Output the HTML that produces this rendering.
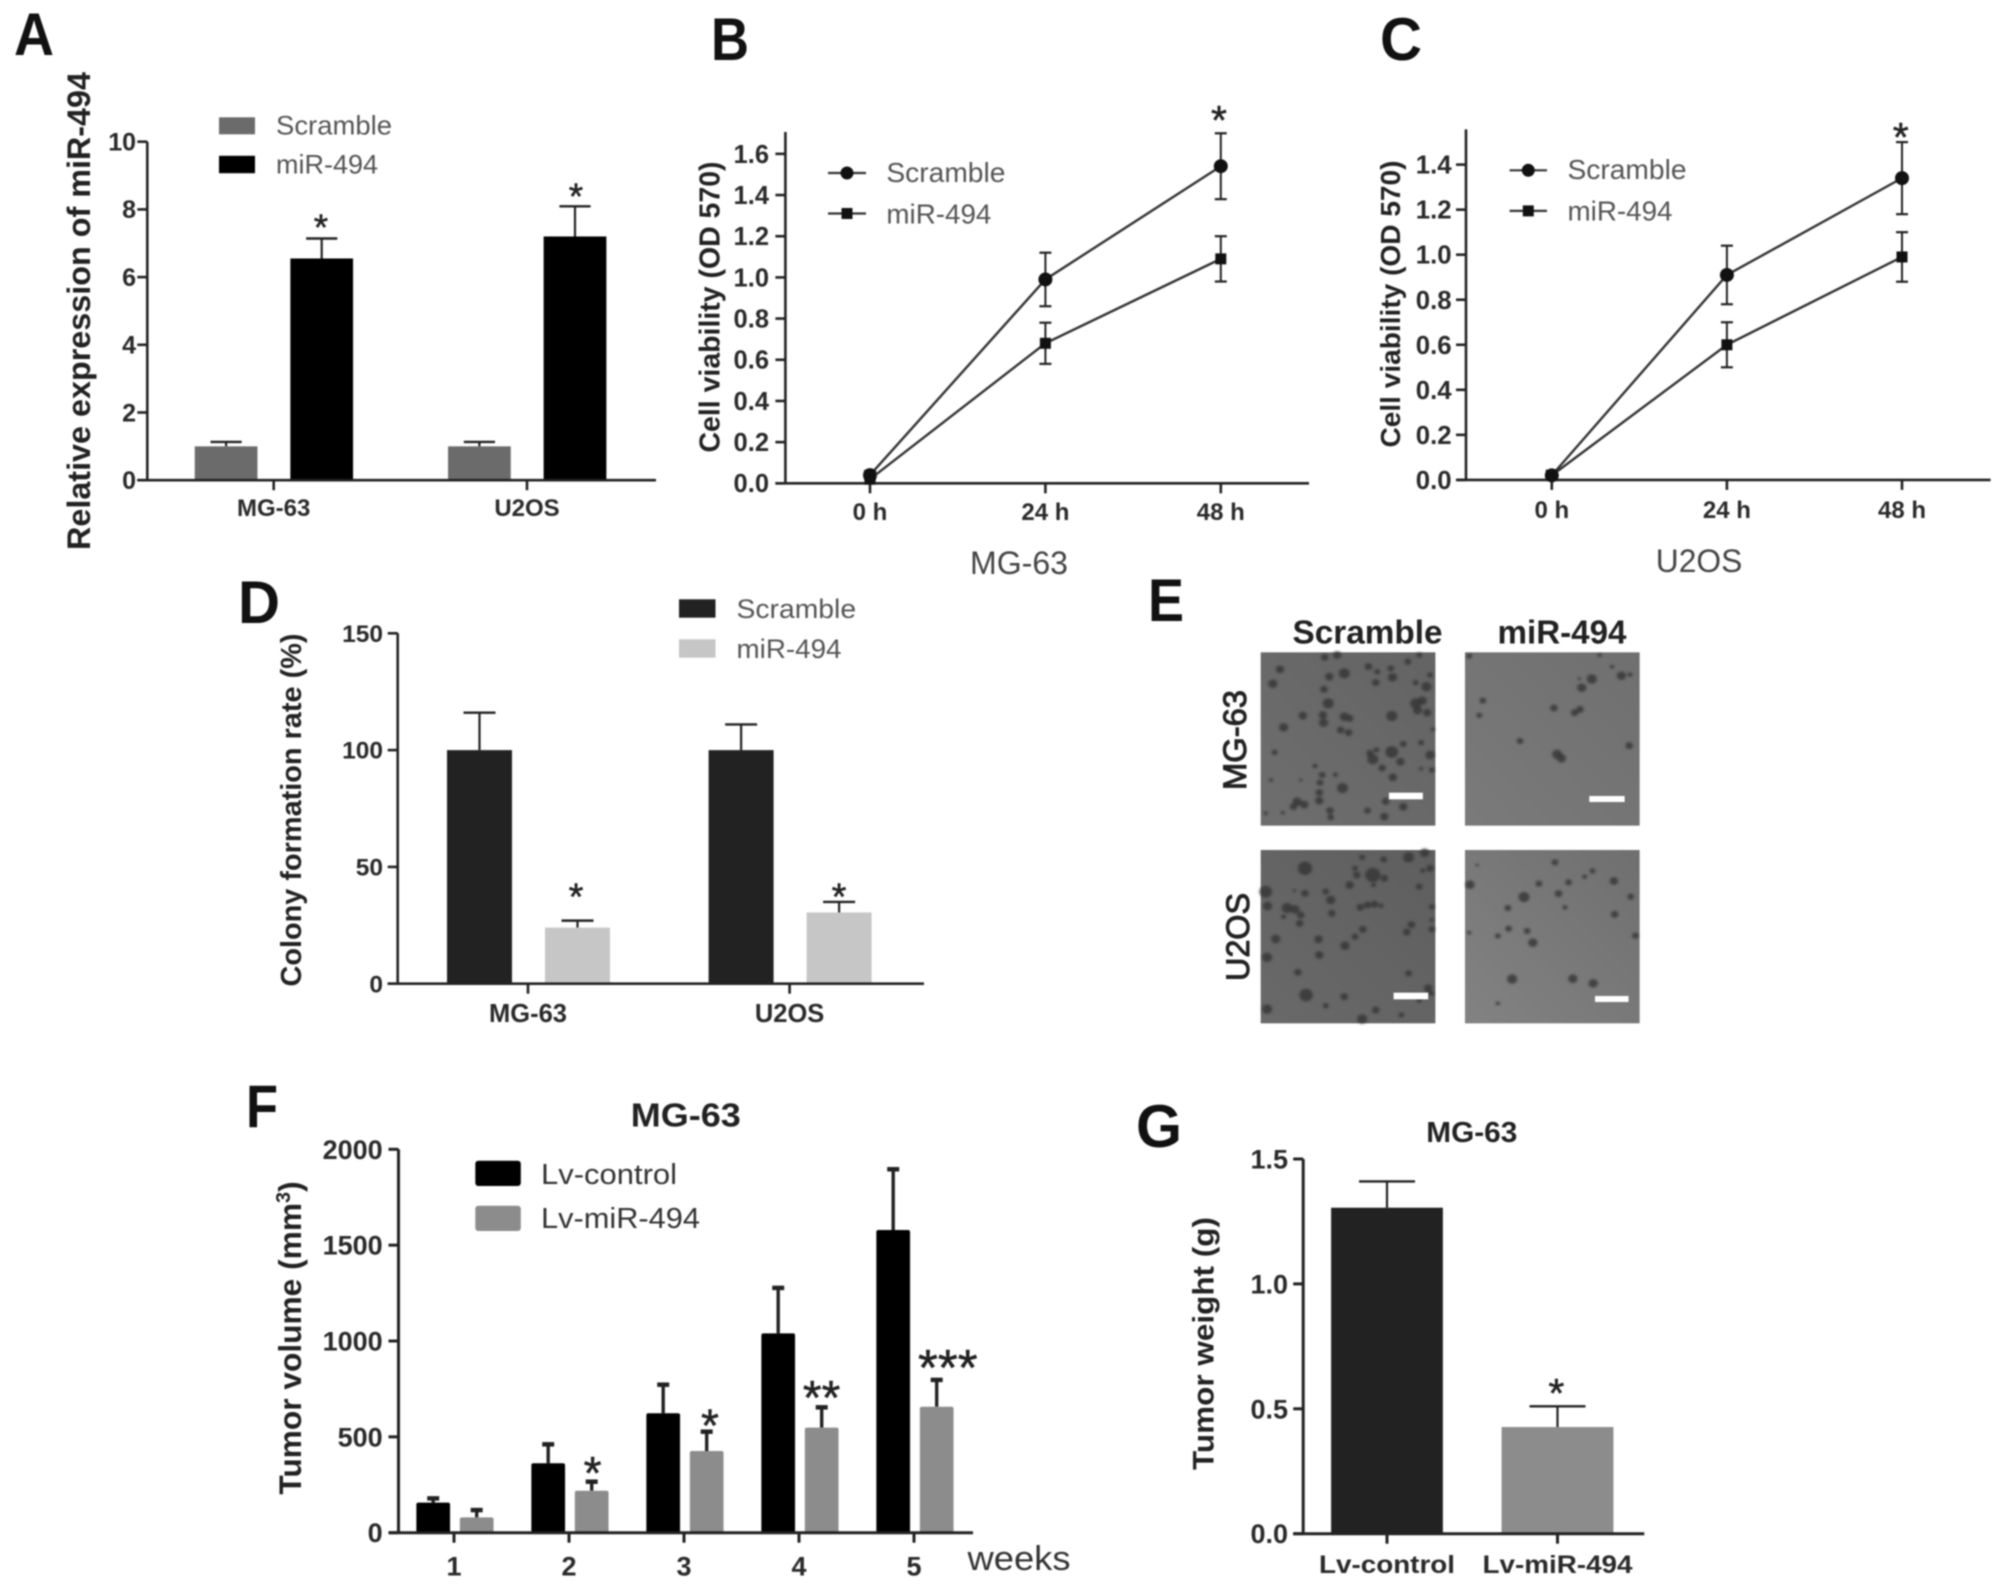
<!DOCTYPE html>
<html lang="en">
<head>
<meta charset="utf-8">
<title>miR-494 figure panels</title>
<style>
html,body{margin:0;padding:0;background:#fff;width:2008px;height:1590px;overflow:hidden}
svg{display:block;filter:blur(0.75px)}
text{font-family:"Liberation Sans",Arial,sans-serif}
</style>
</head>
<body>
<svg id="fig" xmlns="http://www.w3.org/2000/svg" width="2008" height="1590" viewBox="0 0 2008 1590">
<defs>
<filter id="colonyBlur" x="-5%" y="-5%" width="110%" height="110%"><feGaussianBlur stdDeviation="3.5"/></filter>
<linearGradient id="gradA" x1="0" y1="1" x2="1" y2="0"><stop offset="0" stop-color="#6e6e6e"/><stop offset="1" stop-color="#636363"/></linearGradient>
<linearGradient id="gradB" x1="0" y1="1" x2="1" y2="0"><stop offset="0" stop-color="#7a7a7a"/><stop offset="1" stop-color="#6f6f6f"/></linearGradient>
<linearGradient id="gradC" x1="0" y1="1" x2="1" y2="0"><stop offset="0" stop-color="#696969"/><stop offset="1" stop-color="#5e5e5e"/></linearGradient>
<linearGradient id="gradD" x1="0" y1="1" x2="1" y2="0"><stop offset="0" stop-color="#828282"/><stop offset="1" stop-color="#6f6f6f"/></linearGradient>
</defs>
<rect x="0" y="0" width="2008" height="1590" fill="#fff"/>
<g id="panel-a"></g>
<g id="panel-b"></g>
<g id="panel-c"></g>
<g id="panel-d"></g>
<g id="panel-e"></g>
<g id="panel-f"></g>
<g id="panel-g"></g>
</svg>
<script>
// ---------- Panel A data ----------
const aCategories = ['MG-63', 'U2OS'];
const aScramble = [1, 1];
const aScrambleUpper = [1.13, 1.13];
const aMir = [6.55, 7.2];
const aMirUpper = [7.14, 8.09];
const aTicks = [0, 2, 4, 6, 8, 10];
const aTickLabels = ['0', '2', '4', '6', '8', '10'];

// ---------- Panel B data ----------
const bCategories = ['0 h', '24 h', '48 h'];
const bScramble = [0.04, 0.99, 1.54];
const bScrambleLow = [0.02, 0.86, 1.38];
const bScrambleHigh = [0.06, 1.12, 1.70];
const bMir = [0.02, 0.68, 1.09];
const bMirLow = [0.0, 0.58, 0.98];
const bMirHigh = [0.04, 0.78, 1.20];
const bTicks = [0, 0.2, 0.4, 0.6, 0.8, 1.0, 1.2, 1.4, 1.6];
const bTickLabels = ['0.0', '0.2', '0.4', '0.6', '0.8', '1.0', '1.2', '1.4', '1.6'];

// ---------- Panel C data ----------
const cCategories = ['0 h', '24 h', '48 h'];
const cScramble = [0.02, 0.91, 1.34];
const cScrambleLow = [0.0, 0.78, 1.18];
const cScrambleHigh = [0.04, 1.04, 1.50];
const cMir = [0.02, 0.6, 0.99];
const cMirLow = [0.0, 0.5, 0.88];
const cMirHigh = [0.04, 0.7, 1.10];
const cTicks = [0, 0.2, 0.4, 0.6, 0.8, 1.0, 1.2, 1.4];
const cTickLabels = ['0.0', '0.2', '0.4', '0.6', '0.8', '1.0', '1.2', '1.4'];

// ---------- Panel D data ----------
const dCategories = ['MG-63', 'U2OS'];
const dScramble = [100, 100];
const dScrambleUpper = [116, 111];
const dMir = [24, 30.5];
const dMirUpper = [27, 35];
const dTicks = [0, 50, 100, 150];
const dTickLabels = ['0', '50', '100', '150'];

// ---------- Panel F data ----------
const fCategories = ['1', '2', '3', '4', '5'];
const fControl = [157, 362, 623, 1040, 1579];
const fControlUpper = [179, 461, 772, 1277, 1896];
const fMir = [80, 219, 426, 548, 657];
const fMirUpper = [118, 266, 527, 654, 797];
const fTicks = [0, 500, 1000, 1500, 2000];
const fTickLabels = ['0', '500', '1000', '1500', '2000'];

// ---------- Panel G data ----------
const gCategories = ['Lv-control', 'Lv-miR-494'];
const gValues = [1.305, 0.427];
const gUpper = [1.41, 0.51];
const gTicks = [0, 0.5, 1.0, 1.5];
const gTickLabels = ['0.0', '0.5', '1.0', '1.5'];

// ---------- Helpers ----------
const NS = 'http://www.w3.org/2000/svg';
function mk(parent, tag, attrs) {
  const el = document.createElementNS(NS, tag);
  for (const k in attrs) el.setAttribute(k, attrs[k]);
  parent.appendChild(el);
  return el;
}
function txt(parent, name, str, x, y, o) {
  o = o || {};
  const size = o.size || 24;
  const attrs = {
    'font-size': size,
    'font-weight': o.weight || 'bold',
    fill: o.fill || '#222',
    'text-anchor': o.anchor || 'middle'
  };
  if (o.stroke) {
    attrs.stroke = o.fill || '#222';
    attrs['stroke-width'] = o.stroke;
  }
  if (o.rotate) {
    attrs.transform = 'translate(' + x + ' ' + y + ') rotate(-90)';
    attrs.x = 0;
    attrs.y = size * 0.35;
  } else {
    attrs.x = x;
    attrs.y = y + size * 0.35;
  }
  if (o.len) {
    attrs.textLength = o.len;
    attrs.lengthAdjust = 'spacingAndGlyphs';
  }
  const el = mk(parent, 'text', attrs);
  el.textContent = str;
  
  
  return el;
}
function stars(parent, name, str, cx, cy, size) {
  const el = mk(parent, 'text', {x: cx, y: cy + size * 0.49, 'font-size': size, 'font-weight': 'normal', stroke: '#222', 'stroke-width': 0.5, fill: '#222', 'text-anchor': 'middle'});
  el.textContent = str;
  
  
  return el;
}
function line(parent, name, x1, y1, x2, y2, color, w) {
  const el = mk(parent, 'line', {x1: x1, y1: y1, x2: x2, y2: y2, stroke: color || '#222', 'stroke-width': w || 2.4});
  
  
  return el;
}
function box(parent, name, x, y, w, h, fill, rx) {
  const el = mk(parent, 'rect', {x: x, y: y, width: w, height: h, fill: fill, rx: rx || 0});
  
  
  return el;
}
function panelLetter(parent, letter, x, y, len) {
  const el = mk(parent, 'text', {x: x, y: y, 'font-size': 60, 'font-weight': 'bold', fill: '#111', textLength: len, lengthAdjust: 'spacingAndGlyphs'});
  el.textContent = letter;
  
  
}
function axes(g, c) {
  const yS = v => c.y0 - v * c.unit;
  const xS = i => c.cat0 + i * c.step;
  line(g, 'y-axis-line', c.x, c.top, c.x, c.y0 + 1, '#222', c.axisW || 2.6);
  line(g, 'x-axis-line', c.x - 10, c.y0, c.right, c.y0, '#222', c.axisW || 2.6);
  c.ticks.forEach((t, i) => {
    line(g, 'y-tick-' + c.tickLabels[i], c.x - 10, yS(t), c.x, yS(t), '#222', c.axisW || 2.6);
    txt(g, 'y-tick-label-' + c.tickLabels[i], c.tickLabels[i], c.labelRight, yS(t), {size: c.tickSize, anchor: 'end', fill: '#2a2a2a'});
  });
  c.categories.forEach((cat, i) => {
    line(g, 'x-tick-' + cat, xS(i), c.y0, xS(i), c.y0 + 10, '#222', c.axisW || 2.6);
    txt(g, 'x-tick-label-' + cat, cat, xS(i), c.catY, {size: c.catSize, fill: '#2a2a2a', len: c.catLens ? c.catLens[i] : null});
  });
  return {yS: yS, xS: xS};
}
function bars(g, c, s, values, uppers, color, prefix, offset) {
  values.forEach((v, i) => {
    const cx = s.xS(i) + offset;
    const top = s.yS(v);
    const hi = s.yS(uppers[i]);
    line(g, prefix + '-error-bar-' + i, cx, top, cx, hi, '#222', c.errW || 2.2);
    line(g, prefix + '-error-cap-' + i, cx - c.capHalf, hi, cx + c.capHalf, hi, '#222', c.errCapW || 2.4);
    box(g, prefix + '-bar-' + i, cx - c.barW / 2, top, c.barW, c.y0 - top, Array.isArray(color) ? color[i] : color, c.barR || 0);
  });
}
function series(g, s, values, lows, highs, prefix, marker) {
  const d = values.map((v, i) => (i ? 'L' : 'M') + s.xS(i) + ' ' + s.yS(v)).join(' ');
  const path = mk(g, 'path', {d: d, fill: 'none', stroke: '#333', 'stroke-width': 2.4});
  
  
  values.forEach((v, i) => {
    const x = s.xS(i);
    line(g, prefix + '-error-' + i, x, s.yS(lows[i]), x, s.yS(highs[i]), '#222', 2);
    line(g, prefix + '-error-top-' + i, x - 6, s.yS(highs[i]), x + 6, s.yS(highs[i]), '#222', 2.2);
    line(g, prefix + '-error-bottom-' + i, x - 6, s.yS(lows[i]), x + 6, s.yS(lows[i]), '#222', 2.2);
    if (marker === 'circle') {
      const m = mk(g, 'circle', {cx: x, cy: s.yS(v), r: 7, fill: '#111'});
      
      
    } else {
      box(g, prefix + '-point-' + i, x - 5.5, s.yS(v) - 5.5, 11, 11, '#111');
    }
  });
}
function lineLegend(g, x1, x2, textX, y1, y2) {
  line(g, 'legend-scramble-line', x1, y1, x2, y1, '#333', 2.2);
  const m = mk(g, 'circle', {cx: (x1 + x2) / 2, cy: y1, r: 6.5, fill: '#111'});
  
  
  txt(g, 'legend-scramble-label', 'Scramble', textX, y1 - 1, {size: 28, weight: 'normal', fill: '#555', anchor: 'start', len: 119});
  line(g, 'legend-mir-494-line', x1, y2, x2, y2, '#333', 2.2);
  box(g, 'legend-mir-494-marker', (x1 + x2) / 2 - 5.5, y2 - 5.5, 11, 11, '#111');
  txt(g, 'legend-mir-494-label', 'miR-494', textX, y2, {size: 28, weight: 'normal', fill: '#555', anchor: 'start', len: 105});
}

// ---------- Panel A ----------
(function () {
  const g = document.getElementById('panel-a');
  const c = {x: 147.3, y0: 480.2, unit: 33.85, top: 141.7, right: 656, cat0: 273.7, step: 253.3, categories: aCategories,
    ticks: aTicks, tickLabels: aTickLabels, labelRight: 136, tickSize: 25, catY: 507.6, catSize: 24, barW: 62.7, capHalf: 15.6};
  panelLetter(g, 'A', 14, 55, 40);
  txt(g, 'y-axis-title', 'Relative expression of miR-494', 79, 311, {size: 32, rotate: true, len: 478});
  const s = {yS: v => c.y0 - v * c.unit, xS: i => c.cat0 + i * c.step};
  bars(g, c, s, aScramble, aScrambleUpper, '#6b6b6b', 'scramble', -47.6);
  bars(g, c, s, aMir, aMirUpper, '#000', 'mir-494', 48);
  axes(g, c);
  stars(g, 'significance-mg-63', '*', 321, 222, 37);
  stars(g, 'significance-u2os', '*', 576, 191, 37);
  box(g, 'legend-scramble-swatch', 219, 117.3, 36, 17, '#6b6b6b');
  box(g, 'legend-mir-494-swatch', 219, 155.8, 36, 17.4, '#000');
  txt(g, 'legend-scramble-label', 'Scramble', 276, 125, {size: 27, weight: 'normal', fill: '#555', anchor: 'start', len: 116});
  txt(g, 'legend-mir-494-label', 'miR-494', 276, 164, {size: 27, weight: 'normal', fill: '#555', anchor: 'start', len: 102});
})();

// ---------- Panel B ----------
(function () {
  const g = document.getElementById('panel-b');
  const c = {x: 785.4, y0: 483.3, unit: 205.9, top: 132, right: 1309, cat0: 870, step: 175.4, categories: bCategories,
    ticks: bTicks, tickLabels: bTickLabels, labelRight: 769, tickSize: 25.5, catY: 511.7, catSize: 24};
  panelLetter(g, 'B', 711, 60, 38);
  txt(g, 'y-axis-title', 'Cell viability (OD 570)', 709.5, 307, {size: 28.5, rotate: true, len: 291});
  const s = axes(g, c);
  series(g, s, bScramble, bScrambleLow, bScrambleHigh, 'scramble', 'circle');
  series(g, s, bMir, bMirLow, bMirHigh, 'mir-494', 'square');
  stars(g, 'significance-48h', '*', 1219, 114, 41);
  lineLegend(g, 828, 866, 886.4, 173, 213.5);
  txt(g, 'panel-subtitle', 'MG-63', 1019, 563, {size: 32, weight: 'normal', fill: '#444', len: 98});
})();

// ---------- Panel C ----------
(function () {
  const g = document.getElementById('panel-c');
  const c = {x: 1466, y0: 479.9, unit: 225.2, top: 129.4, right: 1990.6, cat0: 1551.8, step: 175.1, categories: cCategories,
    ticks: cTicks, tickLabels: cTickLabels, labelRight: 1451.6, tickSize: 25.8, catY: 509.8, catSize: 24};
  panelLetter(g, 'C', 1380, 60, 42);
  txt(g, 'y-axis-title', 'Cell viability (OD 570)', 1390, 304, {size: 28, rotate: true, len: 287});
  const s = axes(g, c);
  series(g, s, cScramble, cScrambleLow, cScrambleHigh, 'scramble', 'circle');
  series(g, s, cMir, cMirLow, cMirHigh, 'mir-494', 'square');
  stars(g, 'significance-48h', '*', 1900.7, 130.9, 41);
  lineLegend(g, 1509.6, 1547, 1567.5, 170.3, 210.9);
  txt(g, 'panel-subtitle', 'U2OS', 1699, 560.7, {size: 32, weight: 'normal', fill: '#444', len: 86.5});
})();

// ---------- Panel D ----------
(function () {
  const g = document.getElementById('panel-d');
  const c = {x: 397.7, y0: 983.7, unit: 2.336, top: 633.3, right: 924, cat0: 528, step: 261.6, categories: dCategories,
    ticks: dTicks, tickLabels: dTickLabels, labelRight: 383, tickSize: 24.5, catY: 1013.3, catSize: 25.5, barW: 65, capHalf: 16};
  panelLetter(g, 'D', 238, 623, 42);
  txt(g, 'y-axis-title', 'Colony formation rate (%)', 291, 810, {size: 28.5, rotate: true, len: 353});
  const s = {yS: v => c.y0 - v * c.unit, xS: i => c.cat0 + i * c.step};
  bars(g, c, s, dScramble, dScrambleUpper, '#222', 'scramble', -48.5);
  bars(g, c, s, dMir, dMirUpper, '#c6c6c6', 'mir-494', 49.5);
  axes(g, c);
  stars(g, 'significance-mg-63', '*', 576, 890.7, 38);
  stars(g, 'significance-u2os', '*', 839, 890.7, 38);
  box(g, 'legend-scramble-swatch', 679, 599.3, 36.5, 18.4, '#222');
  box(g, 'legend-mir-494-swatch', 679, 639.3, 36.5, 18.4, '#c6c6c6');
  txt(g, 'legend-scramble-label', 'Scramble', 736.5, 608.7, {size: 27, weight: 'normal', fill: '#555', anchor: 'start', len: 119.6});
  txt(g, 'legend-mir-494-label', 'miR-494', 736.5, 648.7, {size: 27, weight: 'normal', fill: '#555', anchor: 'start', len: 105});
})();

// ---------- Panel E (micrographs, drawn in crop coordinates) ----------
const eWells = [
  {name: 'micrograph-mg-63-scramble', x: 366, y: 247, fill: 'url(#gradA)',
   bar: [725, 668, 95, 20],
   dots: [[420,298,9],[400,341,10],[545,262,8],[580,255,9],[558,320,9],[600,310,12],[668,290,8],[692,305,6],[730,295,7],[735,322,10],[688,338,8],[778,275,7],[810,255,6],[840,315,6],[800,338,6],[830,350,11],[543,358,8],[555,400,12],[484,437,9],[540,435,9],[542,458,10],[600,440,10],[615,445,8],[733,438,12],[800,400,12],[818,392,10],[805,420,10],[832,428,9],[430,472,10],[590,480,8],[612,488,8],[848,478,4],[765,522,7],[815,518,6],[405,547,6],[672,550,8],[690,540,6],[680,568,12],[733,546,14],[757,575,9],[840,555,10],[518,588,5],[706,594,8],[845,600,6],[815,596,4],[538,615,7],[575,614,5],[532,638,7],[395,630,4],[478,630,3],[736,622,9],[595,654,12],[530,668,8],[530,692,9],[468,695,10],[488,704,9],[458,710,8],[716,694,8],[765,710,9],[665,722,7],[560,722,8],[562,742,7],[712,740,9],[380,730,4],[428,728,4]]},
  {name: 'micrograph-mg-63-mir-494', x: 938, y: 247, fill: 'url(#gradB)',
   bar: [1286, 678, 99, 18],
   dots: [[950,258,6],[1315,255,4],[1350,290,4],[1293,327,11],[1376,317,10],[1400,314,5],[1258,326,3],[1265,353,10],[988,392,7],[978,436,6],[1187,414,8],[1245,428,8],[1260,418,8],[1092,513,7],[1398,527,8],[1196,553,11],[1208,565,10]]},
  {name: 'micrograph-u2os-scramble', x: 366, y: 840, fill: 'url(#gradC)',
   bar: [738, 1268, 97, 20],
   dots: [[650,862,6],[710,868,7],[780,862,12],[825,848,10],[840,895,8],[820,902,5],[490,895,16],[630,895,6],[680,915,17],[635,915,8],[712,925,8],[615,945,9],[682,945,5],[810,950,7],[380,965,14],[490,970,8],[548,965,7],[562,990,10],[460,962,3],[385,1008,10],[440,1014,12],[462,1018,10],[478,1035,8],[430,1040,5],[475,1060,8],[565,1030,8],[645,1012,8],[665,1005,8],[685,1003,8],[703,1007,5],[845,1010,6],[845,1050,4],[845,1078,7],[788,1064,8],[775,1086,8],[652,1078,8],[630,1100,7],[408,1107,10],[528,1108,9],[602,1127,10],[530,1155,9],[384,1162,11],[470,1207,8],[780,1210,7],[835,1255,9],[843,1270,6],[493,1275,15],[600,1280,8],[810,1290,6],[548,1307,6],[384,1317,11],[688,1320,8],[760,1335,6],[650,1347,11]]},
  {name: 'micrograph-u2os-mir-494', x: 938, y: 840, fill: 'url(#gradD)',
   bar: [1302, 1278, 94, 18],
   dots: [[1190,877,7],[972,885,3],[1295,903,6],[1273,920,5],[1228,937,7],[1145,941,7],[952,944,10],[1355,933,9],[1200,971,8],[1103,981,12],[1402,980,7],[1218,1012,5],[1058,1014,7],[1357,1033,8],[1060,1076,7],[1112,1083,7],[950,1088,4],[1030,1098,6],[1128,1118,10],[1415,1097,7],[1070,1227,11],[1240,1226,10],[1297,1240,10],[1030,1300,4]]}
];
(function () {
  const g = document.getElementById('panel-e');
  panelLetter(g, 'E', 1148, 621, 36);
  txt(g, 'column-label-scramble', 'Scramble', 1367.5, 631.7, {size: 33, len: 150});
  txt(g, 'column-label-mir-494', 'miR-494', 1562, 632, {size: 33, len: 129});
  txt(g, 'row-label-mg-63', 'MG-63', 1234.6, 740, {size: 32, weight: 'normal', stroke: 1, rotate: true, len: 100});
  txt(g, 'row-label-u2os', 'U2OS', 1238, 937, {size: 32, weight: 'normal', stroke: 1, rotate: true, len: 88});
  const crop = mk(g, 'g', {transform: 'translate(1130 570) scale(0.35714 0.33333)'});
  
  
  eWells.forEach(w => {
    const well = mk(crop, 'g', {});
    
    
    box(well, 'micrograph-background', w.x, w.y, 489, 520, w.fill);
    const colonies = mk(well, 'g', {filter: 'url(#colonyBlur)', fill: '#363636', 'fill-opacity': 0.8});
    
    
    w.dots.forEach(d => {
      const el = mk(colonies, 'circle', {cx: d[0], cy: d[1], r: d[2] * 1.2 + 1});
      
      
    });
    box(well, 'scale-bar', w.bar[0], w.bar[1], w.bar[2], w.bar[3], '#fff');
  });
})();

// ---------- Panel F ----------
(function () {
  const g = document.getElementById('panel-f');
  const c = {x: 398.5, y0: 1532.7, unit: 0.1917, top: 1149.3, right: 973, cat0: 454, step: 115, categories: fCategories,
    ticks: fTicks, tickLabels: fTickLabels, labelRight: 382.7, tickSize: 27, catY: 1566, catSize: 27,
    barW: 33.7, capHalf: 6, errW: 3.4, errCapW: 4.5, barR: 2, axisW: 3};
  panelLetter(g, 'F', 246, 1127, 32);
  const s = {yS: v => c.y0 - v * c.unit, xS: i => c.cat0 + i * c.step};
  bars(g, c, s, fControl, fControlUpper, '#000', 'lv-control', -20.8);
  bars(g, c, s, fMir, fMirUpper, '#8c8c8c', 'lv-mir-494', 22.7);
  axes(g, c);
  const title = mk(g, 'text', {transform: 'translate(290 1338) rotate(-90)', x: 0, y: 11, 'font-size': 31.7, 'font-weight': 'bold', fill: '#222', 'text-anchor': 'middle'});
  
  
  title.appendChild(document.createTextNode('Tumor volume (mm'));
  const sup = mk(title, 'tspan', {dy: -11, 'font-size': 20});
  sup.textContent = '3';
  const close = mk(title, 'tspan', {dy: 11});
  close.textContent = ')';
  txt(g, 'chart-title', 'MG-63', 685.8, 1115, {size: 33, len: 110});
  txt(g, 'x-axis-unit', 'weeks', 1019, 1558, {size: 34, weight: 'normal', fill: '#333', len: 103});
  stars(g, 'significance-week-2', '*', 592.6, 1466.7, 46);
  stars(g, 'significance-week-3', '*', 710, 1419, 46);
  stars(g, 'significance-week-4', '**', 821.6, 1390.7, 48);
  stars(g, 'significance-week-5', '***', 947.8, 1360, 51);
  box(g, 'legend-lv-control-swatch', 475.3, 1160.7, 45.5, 25.3, '#000', 3);
  box(g, 'legend-lv-mir-494-swatch', 475.3, 1205.7, 45.5, 25.3, '#8c8c8c', 3);
  txt(g, 'legend-lv-control-label', 'Lv-control', 541, 1174, {size: 29, weight: 'normal', fill: '#333', anchor: 'start', len: 136});
  txt(g, 'legend-lv-mir-494-label', 'Lv-miR-494', 541, 1218, {size: 29, weight: 'normal', fill: '#333', anchor: 'start', len: 159});
})();

// ---------- Panel G ----------
(function () {
  const g = document.getElementById('panel-g');
  const c = {x: 1303.2, y0: 1533.7, unit: 249.8, top: 1159, right: 1644.3, cat0: 1387, step: 170.5, categories: gCategories,
    ticks: gTicks, tickLabels: gTickLabels, labelRight: 1288, tickSize: 27, catY: 1564, catSize: 25, catLens: [136, 150],
    barW: 111.8, capHalf: 28, axisW: 3};
  panelLetter(g, 'G', 1136, 1147, 46);
  txt(g, 'y-axis-title', 'Tumor weight (g)', 1202.9, 1343.5, {size: 30, rotate: true, len: 253});
  txt(g, 'chart-title', 'MG-63', 1471.8, 1131.7, {size: 29, len: 91});
  const s = {yS: v => c.y0 - v * c.unit, xS: i => c.cat0 + i * c.step};
  bars(g, c, s, gValues, gUpper, ['#222', '#8c8c8c'], 'tumor-weight', 0);
  axes(g, c);
  stars(g, 'significance-lv-mir-494', '*', 1556.4, 1386.7, 41);
})();
</script>
</body>
</html>
